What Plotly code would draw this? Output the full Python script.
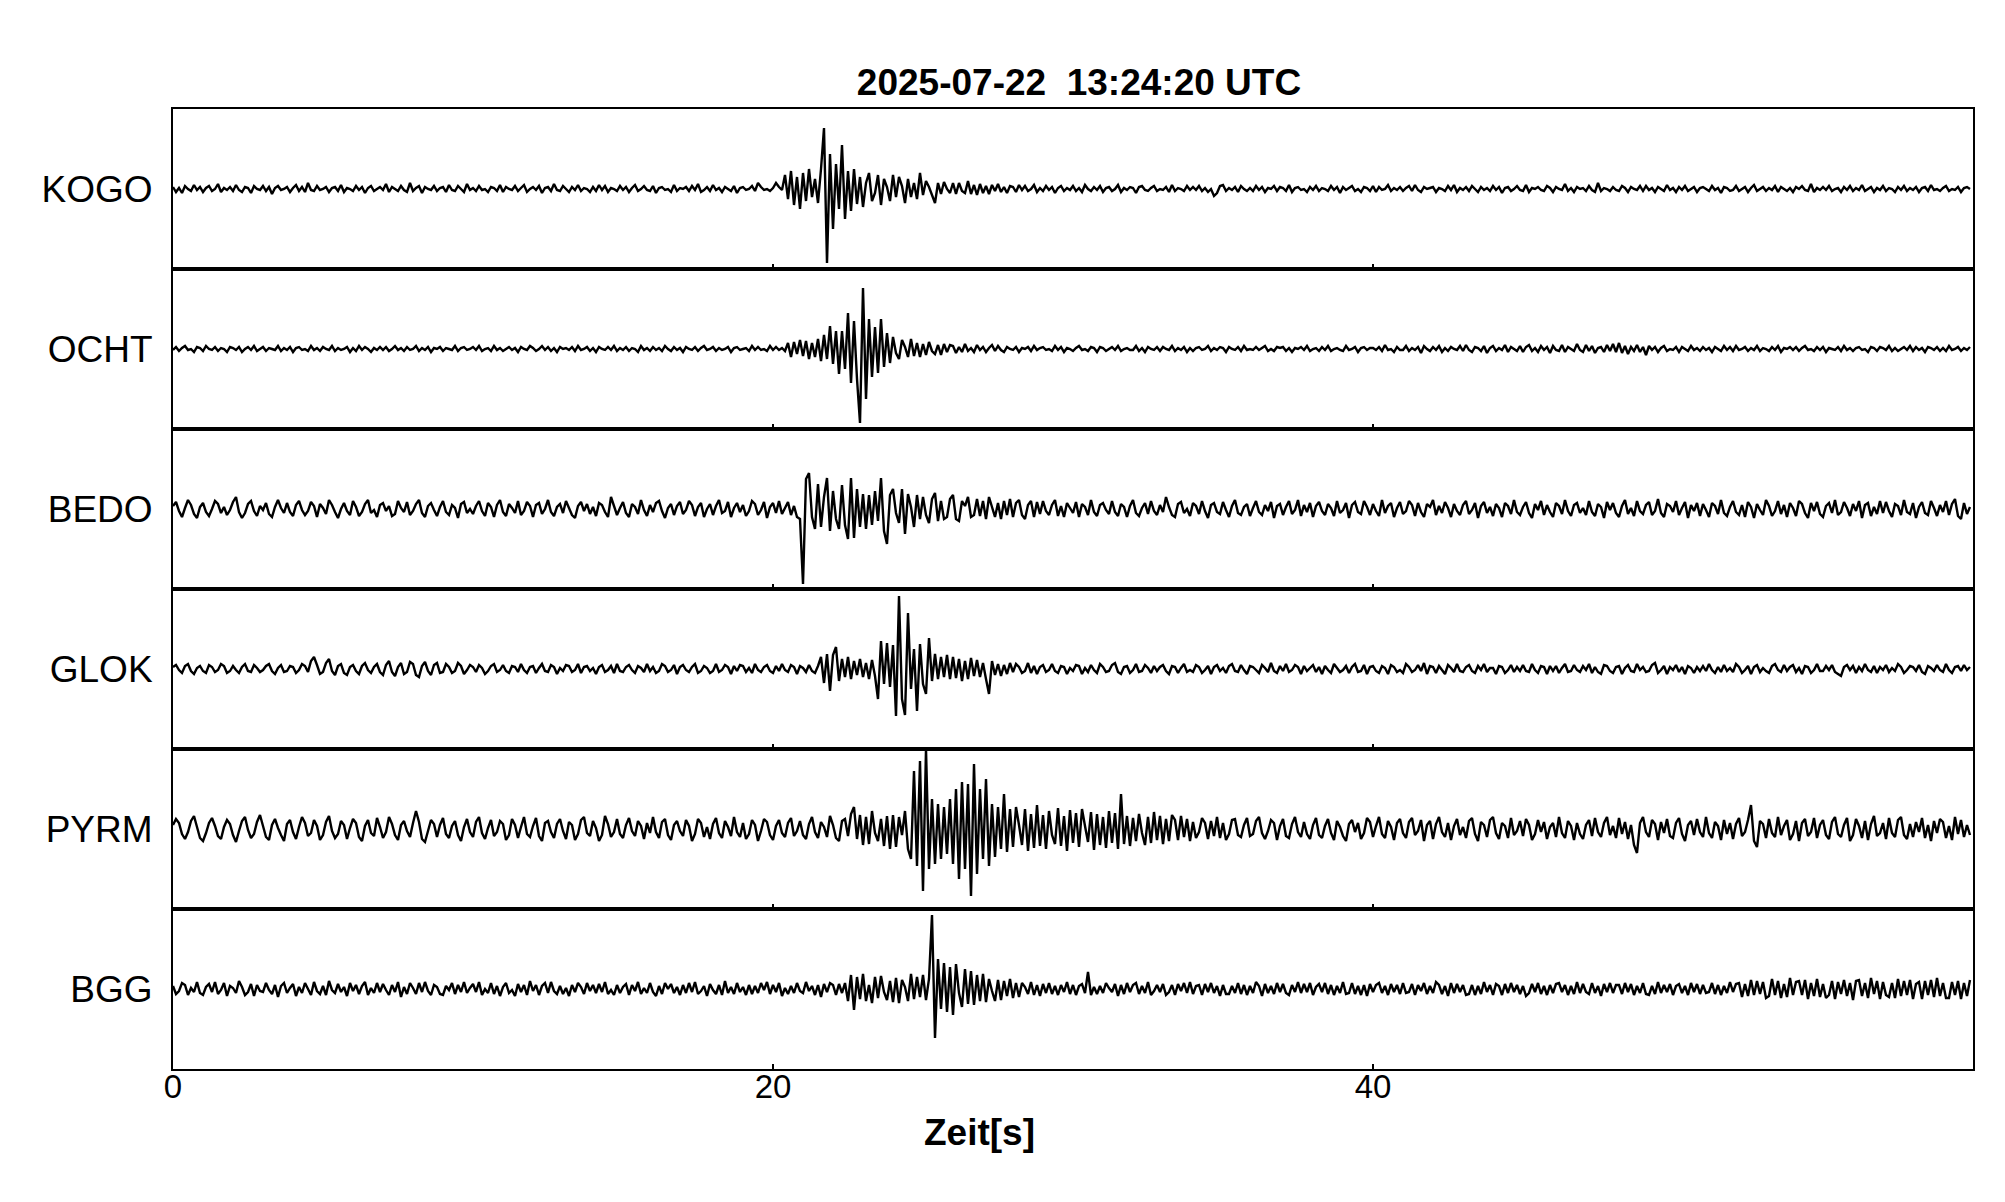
import numpy as np
import plotly.graph_objects as go
from plotly.subplots import make_subplots

# Seismogram traces, 10 samples per second, 0 .. 59.9 s (amplitudes)
stations = ["KOGO", "OCHT", "BEDO", "GLOK", "PYRM", "BGG"]
sample_rate = 10
x_ticks = [0, 20, 40]
title_text = "2025-07-22  13:24:20 UTC"
x_label = "Zeit[s]"

kogo = [
    2,-3,1,-4,3,0,-2,4,-1,2,
    -3,1,3,-2,0,5,-3,1,-1,2,
    -2,4,-1,-3,2,1,-4,3,0,-1,
    3,-2,2,-5,1,3,-1,0,2,-3,
    1,4,-2,2,-3,6,-1,-2,3,-1,
    0,2,-3,1,2,-2,4,-3,1,0,
    -2,3,-1,2,-4,1,3,-2,0,2,
    -1,5,-3,2,0,-2,3,-1,-3,6,
    -2,1,3,-4,2,0,-1,3,-2,1,
    2,-3,4,-1,-2,3,0,-3,5,-1,
    1,-2,3,-1,0,-3,2,1,-2,4,
    -3,2,0,-1,3,-2,1,4,-3,0,
    2,-1,3,-4,1,2,-2,5,-1,-2,
    3,0,-3,2,-1,4,-2,1,0,-3,
    2,-2,4,-1,3,-3,1,0,-2,3,
    -1,2,-3,1,4,-2,0,3,-1,-2,
    3,-4,1,2,-1,0,-3,4,-2,1,
    0,2,-2,3,-1,5,-3,-1,2,-2,
    4,-1,1,-3,2,0,-2,3,-4,1,
    2,-1,0,3,-2,6,2,-1,0,-2,
    1,6,2,-1,14,-10,18,-16,12,-20,
    16,-12,20,-8,10,-14,20,61,-74,35,
    -40,25,-20,44,-30,18,-22,20,-15,12,
    -18,6,16,-12,-4,14,-16,10,2,-12,
    14,-8,12,3,-14,10,-8,6,-10,16,
    -6,8,2,-6,-14,6,-5,7,0,-4,
    6,-5,6,-2,-4,8,-5,4,-6,5,
    -4,3,-5,4,-2,5,-3,2,-4,3,
    2,-3,4,-1,3,-2,0,4,-3,1,
    -2,3,-1,2,-4,1,3,-2,1,-1,
    3,-2,1,-3,4,0,-2,2,-1,3,
    -3,1,2,-2,0,4,-3,1,-1,2,
    1,-4,2,3,-1,-2,1,3,-2,0,
    -1,2,-3,4,-2,1,0,-2,3,-1,
    2,-1,3,-2,1,-3,0,-7,-4,3,
    4,-2,1,-1,2,-3,3,0,-2,1,
    -2,3,-1,2,-3,1,0,3,-2,2,
    1,-2,4,-3,1,2,-1,0,-3,2,
    -1,3,-2,1,0,-2,3,-1,2,-4,
    2,-1,1,3,-2,0,-3,2,1,-2,
    3,-3,2,-1,0,4,-2,1,-1,2,
    -2,1,3,-2,4,-1,-3,2,0,1,
    2,-3,1,0,-2,3,-1,4,-3,1,
    -1,2,-2,3,0,-3,2,-1,1,-2,
    3,-1,2,-4,1,2,-2,0,3,-1,
    -2,4,-3,1,0,2,-1,-2,3,1,
    -3,2,0,-1,5,-2,1,-3,2,0,
    1,-2,3,-1,-3,6,-2,1,0,-2,
    2,-1,-2,3,1,-3,2,0,-1,3,
    -2,3,-1,1,-3,2,0,-2,4,-1,
    1,-3,2,-1,3,-2,0,2,-3,1,
    2,0,-2,3,-1,1,-4,2,1,-2,
    -1,3,-2,0,2,-3,1,4,-2,0,
    2,-2,1,-1,3,-3,2,0,-2,1,
    -3,2,0,3,-1,-2,5,-3,1,-1,
    2,-1,3,-2,0,1,-3,2,-1,3,
    -2,1,-1,4,-2,0,2,-3,1,-1,
    3,-2,1,0,-3,2,-1,3,-2,1,
    -1,2,-3,1,2,-2,4,-1,0,-2,
    1,3,-2,0,-1,2,-3,1,2,0,
]

ocht = [
    -1,2,-2,1,3,-1,0,-3,2,1,
    -2,3,0,-1,2,-2,1,0,-3,2,
    1,-1,2,-3,0,2,-1,3,-2,0,
    2,-2,1,0,-1,3,-2,1,-1,2,
    -3,1,2,-1,0,-2,3,-1,1,-2,
    2,0,-1,3,-2,1,-1,0,2,-3,
    1,-2,3,-1,2,0,-3,1,-1,2,
    -1,2,-2,0,3,-1,1,-2,2,-1,
    0,3,-2,1,-1,2,-3,1,0,2,
    -2,1,0,-1,3,-2,1,2,-1,0,
    2,-1,3,-2,0,1,-2,3,-1,1,
    -2,0,2,-1,1,-3,2,0,-1,3,
    1,-2,0,3,-1,2,-2,1,-3,2,
    0,1,-1,2,-2,3,-1,0,2,-2,
    1,-3,2,0,-1,2,-1,3,-2,1,
    -1,2,-2,1,0,-3,3,-1,1,-2,
    2,-1,1,-2,3,0,-2,2,-1,1,
    -3,2,0,-1,2,-2,1,3,-1,0,
    2,-2,1,-1,0,2,-3,1,2,-1,
    0,1,-2,3,-1,2,-1,0,-2,3,
    -1,2,-1,1,-2,6,-8,7,-5,9,
    -7,8,-10,6,-8,10,-12,14,-10,23,
    -15,18,-25,18,-20,36,-34,28,-30,-74,
    61,-50,30,-28,22,-24,30,-18,16,-14,
    12,-4,-10,9,2,-8,10,-7,6,-8,
    5,-6,7,-2,-5,4,-6,5,-3,4,
    3,-4,2,-3,5,-2,1,-3,4,-1,
    2,-3,1,4,-2,3,-1,-3,2,0,
    -1,2,-3,1,0,2,-2,3,-1,1,
    2,-1,0,-2,3,-1,2,-3,1,0,
    -2,1,3,-1,0,-2,2,1,-3,2,
    1,-2,0,2,-1,3,-2,0,1,-1,
    -1,3,-2,1,-3,2,0,-1,2,-2,
    2,0,-1,3,-2,1,-1,2,-3,1,
    -2,1,2,-1,0,3,-2,1,-1,2,
    1,-3,2,0,-1,2,-2,3,-1,0,
    -1,2,-1,1,3,-2,0,-2,2,1,
    2,-2,1,-3,1,0,2,-1,3,-2,
    0,1,-2,2,-1,3,-2,0,1,-1,
    -2,3,-1,0,2,-3,1,2,-1,1,
    1,-1,2,-2,4,-1,0,-3,2,-1,
    -1,3,-2,1,-1,2,-4,3,0,-2,
    2,-1,3,-3,1,-2,2,0,-1,3,
    -2,4,-1,-3,2,1,-2,3,-4,1,
    3,-2,1,-1,4,-3,2,0,-2,3,
    -3,2,4,-2,1,-3,3,-1,2,-4,
    3,-1,-2,4,-3,2,0,-2,5,-1,
    -3,4,-2,3,-4,1,2,-3,4,-2,
    5,-3,6,-4,3,-5,2,-2,4,-3,
    2,-6,3,-1,2,-3,1,3,-2,0,
    -1,2,-3,2,0,-2,3,-1,1,-2,
    2,-1,1,-3,2,0,-2,3,-1,2,
    -2,3,-1,0,2,-2,1,-1,3,-2,
    1,0,-2,2,-1,3,-3,1,0,2,
    -1,2,-2,1,3,-1,0,-2,2,-1,
    2,-3,1,0,-1,2,-2,3,-1,1,
    -2,1,2,-1,0,-3,2,1,-2,2,
    1,-1,3,-2,1,-2,0,2,-1,3,
    -2,2,-1,1,-3,2,1,-1,2,-2,
    1,-2,3,-1,0,2,-2,1,-1,2,
]

bedo = [
    3,7,-2,-8,1,9,4,-5,-9,2,
    6,-3,-7,0,8,5,-4,2,-6,-1,
    7,12,-3,-9,-4,5,8,-2,-7,3,
    -1,6,-5,-8,2,9,1,-4,6,-3,
    -7,4,8,-1,-6,-2,7,3,-8,5,
    1,-5,9,4,-3,-9,0,6,-2,-6,
    8,2,-7,-3,5,9,-4,-1,-8,4,
    6,-2,3,-7,-5,8,1,-3,7,-6,
    -2,5,9,-4,-8,3,6,-1,-7,2,
    8,-3,-6,4,1,-9,5,7,-4,0,
    -5,3,8,-2,-7,6,2,-8,4,9,
    -3,-7,5,1,-4,8,-6,-2,7,3,
    -8,4,6,-5,0,9,-3,-7,2,5,
    -4,8,1,-6,-9,3,7,-2,5,-5,
    2,-7,6,4,-3,-8,12,3,-6,1,
    7,-4,-8,5,2,-5,9,-1,-7,4,
    -3,6,8,-2,-9,1,5,-6,3,7,
    -5,-1,8,4,-7,2,6,-8,0,5,
    -6,3,9,-4,-2,7,-8,1,6,-3,
    4,-7,-2,8,5,-6,-1,7,-9,2,
    6,-4,8,-5,1,7,-6,3,-8,-10,
    -75,30,36,-8,-20,25,-18,12,31,-22,
    18,-10,-20,24,-16,-30,31,-29,20,-18,
    15,-20,14,-16,18,-12,31,-22,-35,14,
    20,-4,-14,20,-25,15,2,-18,14,-10,
    12,-6,-14,10,16,-12,8,-10,-8,10,
    14,-10,-12,8,3,12,-8,-6,10,-7,
    8,-10,12,2,-8,6,-10,8,-6,10,
    -8,6,9,-6,-10,4,8,-8,7,-5,
    8,-2,-6,4,9,-7,3,-8,6,1,
    -4,7,-8,5,2,-6,9,-3,-7,4,
    6,-1,-5,8,-3,-7,5,2,-8,3,
    9,-4,-7,1,6,-5,8,-2,-6,4,
    -3,12,2,-6,-8,5,7,-4,0,-7,
    6,3,-5,8,-2,-9,4,6,-3,-5,
    7,-1,-8,3,9,-4,-6,2,5,-7,
    1,8,-3,-6,4,-2,7,-9,3,5,
    -6,2,8,-5,-1,9,-7,4,-3,6,
    -8,3,7,-2,-6,5,1,-7,8,-4,
    -1,6,-9,4,7,-3,-5,8,2,-6,
    5,-2,-7,9,-4,3,6,-8,1,7,
    -5,-2,8,4,-7,6,-3,-8,5,2,
    9,-6,3,-4,7,1,-8,5,-2,-6,
    4,8,-5,-1,6,-9,3,7,-4,2,
    -7,5,1,-8,6,3,-5,9,-3,-6,
    2,7,-4,-9,5,-1,8,-6,4,-3,
    -8,6,3,-5,9,-2,-7,4,6,-4,
    1,-6,8,-3,-7,5,2,-9,7,-1,
    6,-4,-8,3,9,-5,1,-7,8,-2,
    -5,4,7,-6,-2,10,-4,-8,5,3,
    -3,8,-6,1,7,-9,4,-2,6,-7,
    5,-1,-8,6,3,-5,9,-4,-7,2,
    8,-3,-6,4,-8,7,2,-9,5,-1,
    -6,9,3,-7,-2,8,-5,4,-8,6,
    1,-7,8,5,-4,-9,6,-2,7,-5,
    -8,3,6,-4,9,-6,-3,7,1,-7,
    5,-2,8,-9,4,6,-7,2,-5,8,
    -4,7,-2,-8,5,3,-6,9,-3,-5,
    6,-9,2,7,-4,-6,8,1,-7,4,
    -3,8,-6,5,10,-7,-10,6,-5,2,
]

glok = [
    2,4,-1,-4,3,5,-2,-5,1,3,
    -2,-4,4,2,-3,-1,5,3,-4,-2,
    3,-1,-4,2,5,-2,-3,4,1,-3,
    -1,3,5,-2,-5,1,4,-3,-2,3,
    2,-4,-1,5,3,-3,8,12,4,-5,
    -3,6,10,-2,-6,3,5,-4,-6,2,
    4,-2,-5,3,6,-1,-4,2,5,-3,
    -6,4,8,-3,-7,2,6,-5,-3,7,
    5,-6,-8,3,7,-2,-6,4,6,-4,
    -3,5,2,-4,-2,6,3,-5,-1,4,
    2,-3,4,1,-5,-2,3,5,-3,-1,
    4,-2,-4,3,2,-3,5,-1,-4,2,
    3,-4,1,5,-2,-3,4,2,-5,1,
    -2,4,3,-3,-1,5,-4,2,3,-2,
    1,-5,2,4,-3,-1,3,-4,5,-2,
    -3,2,4,-1,-4,3,1,-3,5,-2,
    2,-4,-2,5,3,-3,-1,4,-5,2,
    4,-1,-3,2,5,-4,-2,3,1,-4,
    -2,5,-3,-1,4,2,-5,3,-2,4,
    3,-3,1,-4,5,-1,-3,2,4,-2,
    -4,3,-2,5,-1,-3,4,2,-5,3,
    1,-3,4,-2,-4,3,12,-14,15,-22,
    14,22,-12,10,-8,12,-10,8,-6,10,
    -8,6,-10,9,-7,-30,28,-15,26,-18,
    24,-47,73,-30,-46,56,-20,20,-42,25,
    -15,-25,31,-12,15,-10,12,-8,14,-10,
    12,-9,10,-12,8,-10,11,-7,9,-8,
    6,-10,-25,8,-6,5,-7,4,-5,6,
    -3,5,2,-4,-2,6,-4,3,-5,2,
    4,-3,-1,5,-2,-4,3,2,-5,1,
    -2,4,3,-5,1,-3,4,-1,-4,5,
    2,-3,-2,4,6,-3,-5,2,3,-4,
    -1,5,-3,-2,4,1,-4,3,-2,2,
    4,-2,-5,3,2,-4,1,5,-3,-1,
    -3,4,2,-4,-1,3,-5,2,4,-2,
    1,-4,3,5,-2,-3,4,-1,-5,3,
    2,-1,-4,4,1,-3,6,-2,-4,3,
    -2,5,-3,-1,4,2,-5,3,-2,1,
    4,-3,2,-5,3,-1,-4,5,1,-3,
    -1,3,-4,2,5,-3,-2,4,-5,2,
    3,-2,-4,3,1,-5,4,2,-3,-1,
    -4,5,2,-3,-1,4,-2,6,-5,3,
    2,-4,3,-1,-5,4,1,-3,5,-2,
    -3,2,4,-2,-4,3,-1,5,-3,1,
    1,-5,3,2,-4,-1,4,-3,2,-2,
    4,-2,-3,5,-1,-4,3,2,-5,3,
    -2,3,-4,1,5,-3,-2,4,-1,-3,
    3,-1,5,-4,2,-3,-5,4,3,-2,
    -4,2,3,-5,1,4,-2,-3,5,-1,
    2,-3,-2,4,6,-4,-1,3,-5,2,
    -1,4,-3,2,-5,3,1,-4,2,-2,
    3,-2,5,-1,-4,2,-3,4,-2,1,
    -3,5,2,-4,-1,3,-5,2,4,-3,
    1,-2,-4,3,5,-1,-3,4,-2,2,
    4,-3,1,-5,3,2,-4,-1,5,-2,
    -2,3,-1,4,-3,-5,-7,2,4,-1,
    3,-4,2,-2,5,-1,-3,3,-4,2,
    -1,4,-3,1,-2,5,2,-4,-1,3,
    2,-2,4,-3,-5,3,1,-2,4,-1,
    -3,5,-1,-4,2,3,-2,4,-1,2,
]

pyrm = [
    4,10,6,-5,-10,-3,8,13,2,-9,
    -12,-4,6,11,3,-7,-10,2,9,5,
    -6,-13,-2,8,12,-1,-9,-5,7,14,
    3,-8,-11,4,10,1,-6,-12,5,9,
    -3,-10,2,12,6,-7,-4,9,3,-11,
    -6,7,13,-2,-9,-5,8,4,-10,1,
    10,6,-8,-12,3,9,-4,-7,11,2,
    -9,-3,12,5,-6,-11,4,8,-2,-8,
    6,18,7,-10,-13,-2,9,5,-8,4,
    11,-5,-9,3,8,-6,-12,2,10,-3,
    -8,7,12,-4,-10,1,9,-7,-3,8,
    5,-11,-6,10,4,-9,2,12,-5,-8,
    3,11,-7,-12,6,8,-3,-9,5,10,
    -2,-10,7,4,-11,-5,9,12,-4,-7,
    8,1,-12,-6,13,5,-8,-3,10,-5,
    -9,4,11,-2,-7,8,3,-10,6,-4,
    12,-3,-9,7,10,-6,-11,4,8,-2,
    -7,9,3,-12,-5,10,6,-8,2,-10,
    5,11,-4,-9,8,2,-7,12,-3,-8,
    6,-10,-5,9,4,-12,-2,10,7,-6,
    -11,3,9,-4,-8,6,11,-7,-2,8,
    -6,-10,5,12,-3,-9,7,2,-8,13,
    4,-9,-12,8,10,-7,15,22,-10,14,
    -16,12,-15,18,-4,-12,10,-17,13,-20,
    14,-18,12,-6,18,-20,-30,58,-37,68,
    -62,80,-40,30,-35,25,-30,22,-25,30,
    -35,40,-50,47,-40,45,-67,65,-45,40,
    -30,50,-37,25,-28,22,-20,35,-23,20,
    -18,22,4,-16,20,-22,15,-19,24,-17,
    14,-20,18,-6,-15,21,-17,13,-22,19,
    -14,16,-18,20,3,-13,17,-21,15,-16,
    12,-19,18,-14,16,-20,35,-15,13,-17,
    11,-12,15,-4,-16,12,-14,17,-11,13,
    -15,10,-12,14,9,-11,13,-8,10,-12,
    7,-9,-3,11,6,-10,8,-7,12,-9,
    6,-11,-5,9,10,-6,-8,4,11,-7,
    -5,8,12,-4,-10,-2,9,6,-11,3,
    10,-7,-9,5,12,-3,-8,7,-5,-10,
    4,11,-6,-9,3,10,-4,-11,8,2,
    -7,-12,5,9,-3,6,-10,-4,11,7,
    -8,3,12,-5,-9,8,2,-11,6,10,
    -4,-9,7,11,-6,-2,9,-12,4,8,
    -10,5,12,-3,-8,6,-11,3,10,-6,
    2,-9,8,11,-5,-12,7,4,-8,9,
    12,-4,-10,6,3,-9,11,-6,-2,8,
    -7,10,4,-11,-5,9,-3,7,-10,2,
    6,-8,12,-4,-9,8,3,-11,6,-5,
    -10,4,9,-7,11,-3,-8,6,12,-6,
    3,-9,11,-5,7,-10,4,-16,-24,6,
    12,-3,-8,9,5,-11,7,-4,10,-7,
    -9,6,11,-5,-12,4,8,-6,10,-3,
    -8,12,-4,-9,7,3,-11,9,-5,6,
    -10,5,11,-7,-3,9,24,-12,-18,8,
    5,-9,10,-4,-8,12,-6,3,9,-11,
    -5,8,-12,6,10,-7,-3,11,-9,4,
    9,-6,-10,7,12,-5,-8,4,11,-12,
    -6,10,3,-9,8,-11,5,13,-7,-4,
    6,-10,11,-4,-8,9,12,-6,-10,5,
    -8,7,-3,11,-9,4,-12,8,-4,10,
    7,-9,3,-11,12,-5,9,-8,4,-6,
]

bgg = [
    3,-5,-2,6,4,-6,1,-3,7,-4,
    -6,2,5,-3,7,-5,-1,6,-7,3,
    1,-4,8,2,-6,-3,5,-7,4,-2,
    -3,6,-1,-5,4,-8,3,6,-4,1,
    5,-7,2,-4,6,0,-6,7,-2,-5,
    3,-6,8,-1,-4,5,-3,2,-7,6,
    -2,4,-5,3,7,-6,1,-4,6,-3,
    5,-1,-6,4,-3,7,-8,2,-5,6,
    1,-5,6,-3,7,-2,-6,4,2,-5,
    -6,3,-1,6,-5,4,-3,7,-4,1,
    5,-3,7,-6,0,-4,6,-5,3,-7,
    2,6,-4,-1,-7,5,-3,4,-6,8,
    -2,4,-6,3,6,-4,7,-2,-5,3,
    -5,1,-7,4,-3,6,2,-5,6,-2,
    4,-4,5,-3,7,-5,-1,-6,4,-4,
    2,5,-6,4,-2,7,-5,1,-4,6,
    -3,-7,3,-5,6,0,5,-4,2,-6,
    4,-4,6,-3,7,-5,-2,3,-7,5,
    -1,-5,4,-6,8,-4,2,-5,6,-3,
    2,-6,4,-5,3,-4,6,-1,7,-5,
    4,-3,6,-7,1,-5,3,-4,6,-2,
    -4,7,-2,3,-6,4,-8,5,-3,6,
    4,-6,5,-4,6,-12,14,-21,12,-10,
    15,-12,4,-14,12,-9,13,-3,-11,8,
    -13,11,-14,9,2,-12,15,-10,12,-8,
    14,-11,10,74,-49,30,-20,26,-23,22,
    -26,25,-4,-18,20,-15,18,-16,14,-12,
    15,-13,10,-2,-12,9,-11,8,-7,10,
    -9,6,-8,6,2,-5,7,-6,4,-7,
    5,-4,6,-5,3,-6,4,-3,7,-5,
    4,-6,3,5,-4,17,-6,2,-5,3,
    -4,6,1,-3,5,-7,4,-5,6,-3,
    4,6,-5,3,-4,7,-6,-2,4,-3,
    5,-6,-3,4,-6,5,-2,6,-4,7,
    -5,3,4,-6,5,-3,6,-4,3,-7,
    4,-5,-5,3,-4,6,-5,4,-6,3,
    -4,7,3,-7,5,-4,3,-5,6,-3,
    5,-4,-6,4,-3,7,-4,5,-3,6,
    -6,2,5,-3,6,-5,4,-6,3,-4,
    7,-5,-4,6,-5,3,-6,4,-7,5,
    -3,4,6,-4,3,-6,5,-3,4,-5,
    6,-4,-3,5,-6,4,-2,6,-5,3,
    -4,7,4,-5,3,-7,6,-4,5,-3,
    4,-6,-5,4,-6,3,-5,7,-3,4,
    -6,5,3,-6,5,-4,6,-3,4,-5,
    3,-7,-4,5,-3,6,-5,3,-6,4,
    -4,5,6,-3,4,-6,3,-5,7,-4,
    5,-3,-5,6,-4,3,-7,5,-3,6,
    -4,4,4,-5,6,-3,5,-6,3,-4,
    6,-5,-6,3,-5,7,-4,4,-3,5,
    -6,3,5,-4,3,-6,6,-3,5,-5,
    4,-4,-3,6,-5,4,-6,3,-4,7,
    -3,5,6,-8,5,-7,9,-6,8,-5,
    7,-9,-7,10,-6,8,-9,5,-8,11,
    -6,7,8,-6,9,-10,6,-7,10,-8,
    5,-9,-6,8,-10,7,-5,9,-7,6,
    -11,8,9,-7,6,-9,11,-5,8,-10,
    7,-6,-8,6,-9,10,-7,8,-6,9,
    -10,5,7,-10,8,-6,9,-8,11,-7,
    6,-9,-9,7,-6,8,-10,6,-7,9,
]

traces = [kogo, ocht, bedo, glok, pyrm, bgg]

FONT = "Liberation Sans, Arial, Helvetica, sans-serif"

# page has an 8px body margin; figure sized so it ends at the window edge
FIG_W, FIG_H = 1997, 1194

fig = make_subplots(rows=6, cols=1, shared_xaxes=True, vertical_spacing=0)

for i, (name, vals) in enumerate(zip(stations, traces)):
    t = np.arange(len(vals)) / sample_rate
    fig.add_trace(
        go.Scatter(x=t, y=vals, mode="lines", name=name,
                   line=dict(color="black", width=2.4, simplify=False),
                   showlegend=False, hoverinfo="skip"),
        row=i + 1, col=1,
    )
    fig.update_yaxes(
        range=[-80, 80], tickvals=[0], ticktext=[name], ticks="",
        showline=True, mirror=True, linecolor="black", linewidth=2,
        showgrid=False, zeroline=False, fixedrange=True,
        tickfont=dict(family=FONT, size=37, color="black"),
        ticklabelstandoff=11,
        row=i + 1, col=1,
    )
    fig.update_xaxes(
        range=[0, 60], tickvals=x_ticks, ticks="inside", ticklen=5,
        tickwidth=2, tickcolor="black",
        showline=True, mirror=True, linecolor="black", linewidth=2,
        showgrid=False, zeroline=False,
        showticklabels=(i == len(stations) - 1),
        tickfont=dict(family=FONT, size=33, color="black"),
        ticklabelstandoff=-13,
        row=i + 1, col=1,
    )

fig.update_layout(
    width=FIG_W, height=FIG_H,
    margin=dict(l=165, r=32, t=101, b=133),
    plot_bgcolor="white", paper_bgcolor="white",
    title=dict(text="<b>" + title_text + "</b>", x=1071 / FIG_W, xanchor="center",
               y=1 - 74 / FIG_H, yanchor="middle",
               font=dict(family=FONT, size=37, color="black")),
    annotations=[dict(text="<b>" + x_label + "</b>", xref="paper", yref="paper",
                      x=(979 - 173) / 1800, y=(1069 - 1132) / 960,
                      xanchor="center", yanchor="middle", showarrow=False,
                      font=dict(family=FONT, size=37, color="black"))],
)

fig.write_html("out.html")
